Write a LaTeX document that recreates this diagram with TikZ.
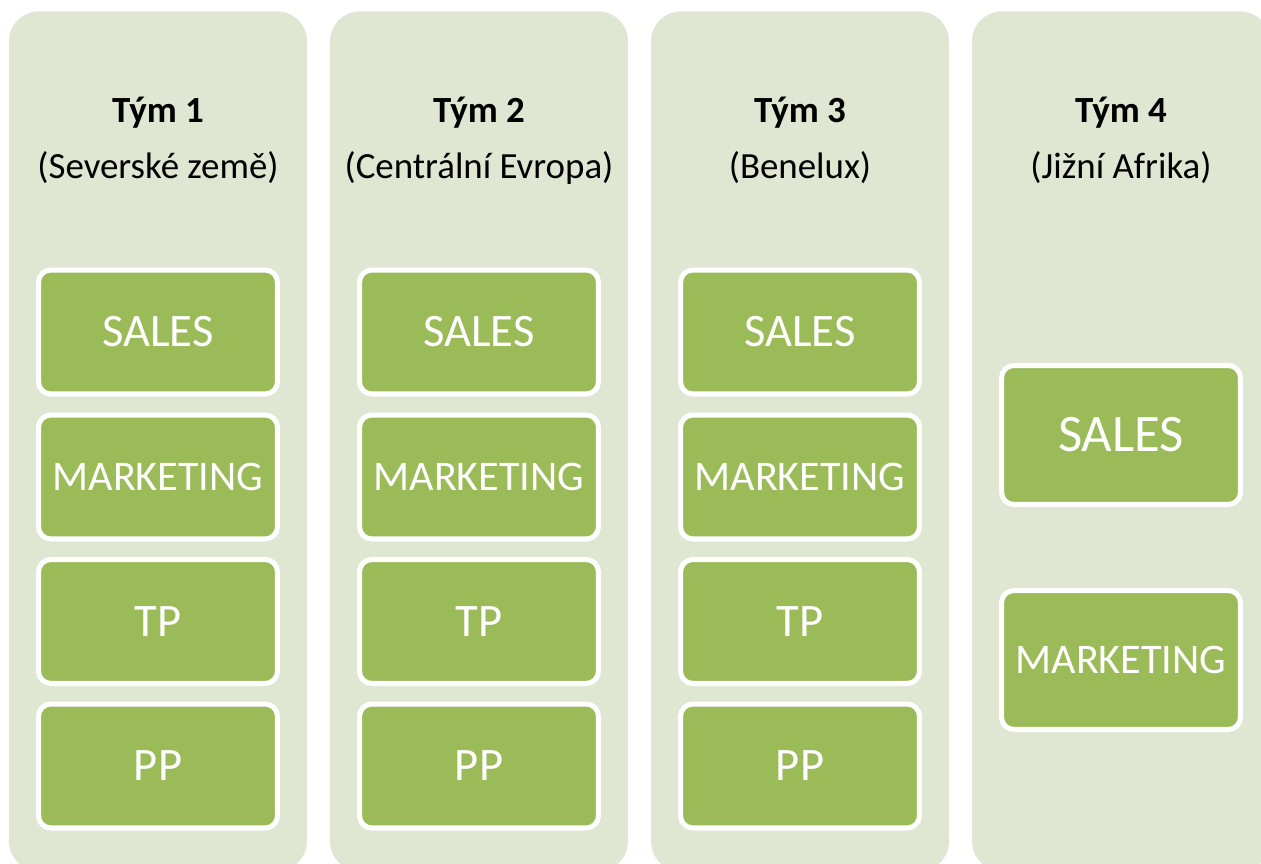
\documentclass[tikz,border=0pt]{standalone}
\usepackage{fontspec}
\setmainfont{Carlito}
\usetikzlibrary{positioning}
\definecolor{teamBg}{HTML}{DFE7D3}
\definecolor{unitGreen}{HTML}{9BBB59}
\tikzset{
  team/.style  = {draw=none, fill=teamBg, rounded corners=17pt,
                  minimum width=5.96cm, minimum height=17.2cm, inner sep=0pt},
  unit/.style  = {draw=white, line width=2.85pt, fill=unitGreen, rounded corners=7pt,
                  minimum width=4.78cm, minimum height=2.48cm, inner sep=0pt,
                  text=white, font=\fontsize{26.5}{30}\selectfont},
  longtext/.style = {font=\fontsize{24}{28}\selectfont},
  bigunit/.style = {unit, minimum height=2.78cm},
  tname/.style = {font=\fontsize{21}{25}\selectfont\bfseries},
  tregion/.style = {font=\fontsize{21}{25}\selectfont},
}

\begin{document}
\begin{tikzpicture}[x=0.02cm,y=-0.02cm]
  \clip (0,0) rectangle (1261,863);
  \fill[white] (0,0) rectangle (1261,863);
  % team columns
  \foreach \i/\cx in {1/158,2/479,3/800,4/1121}{
    \node[team, anchor=north] (T\i) at (\cx,11) {};
  }
  % headers
  \node[tname]   (H1) at (158,113) {Tým 1};
  \node[tregion] (R1) at (158,168) {(Severské země)};
  \node[tname]   (H2) at (479,113) {Tým 2};
  \node[tregion] (R2) at (479,168) {(Centrální Evropa)};
  \node[tname]   (H3) at (800,113) {Tým 3};
  \node[tregion] (R3) at (800,168) {(Benelux)};
  \node[tname]   (H4) at (1121,113) {Tým 4};
  \node[tregion] (R4) at (1121,168) {(Jižní Afrika)};
  % departments
  \foreach \i/\cx in {1/158,2/479,3/800}{
    \node[unit] (S\i) at (\cx,332) {SALES};
    \node[unit, longtext] (M\i) at (\cx,477) {MARKETING};
    \node[unit] (TP\i) at (\cx,621.5) {TP};
    \node[unit] (PP\i) at (\cx,766) {PP};
  }
  \node[bigunit, font=\fontsize{30}{34}\selectfont] (S4) at (1121,435) {SALES};
  \node[bigunit, longtext] (M4) at (1121,660) {MARKETING};
\end{tikzpicture}
\end{document}
